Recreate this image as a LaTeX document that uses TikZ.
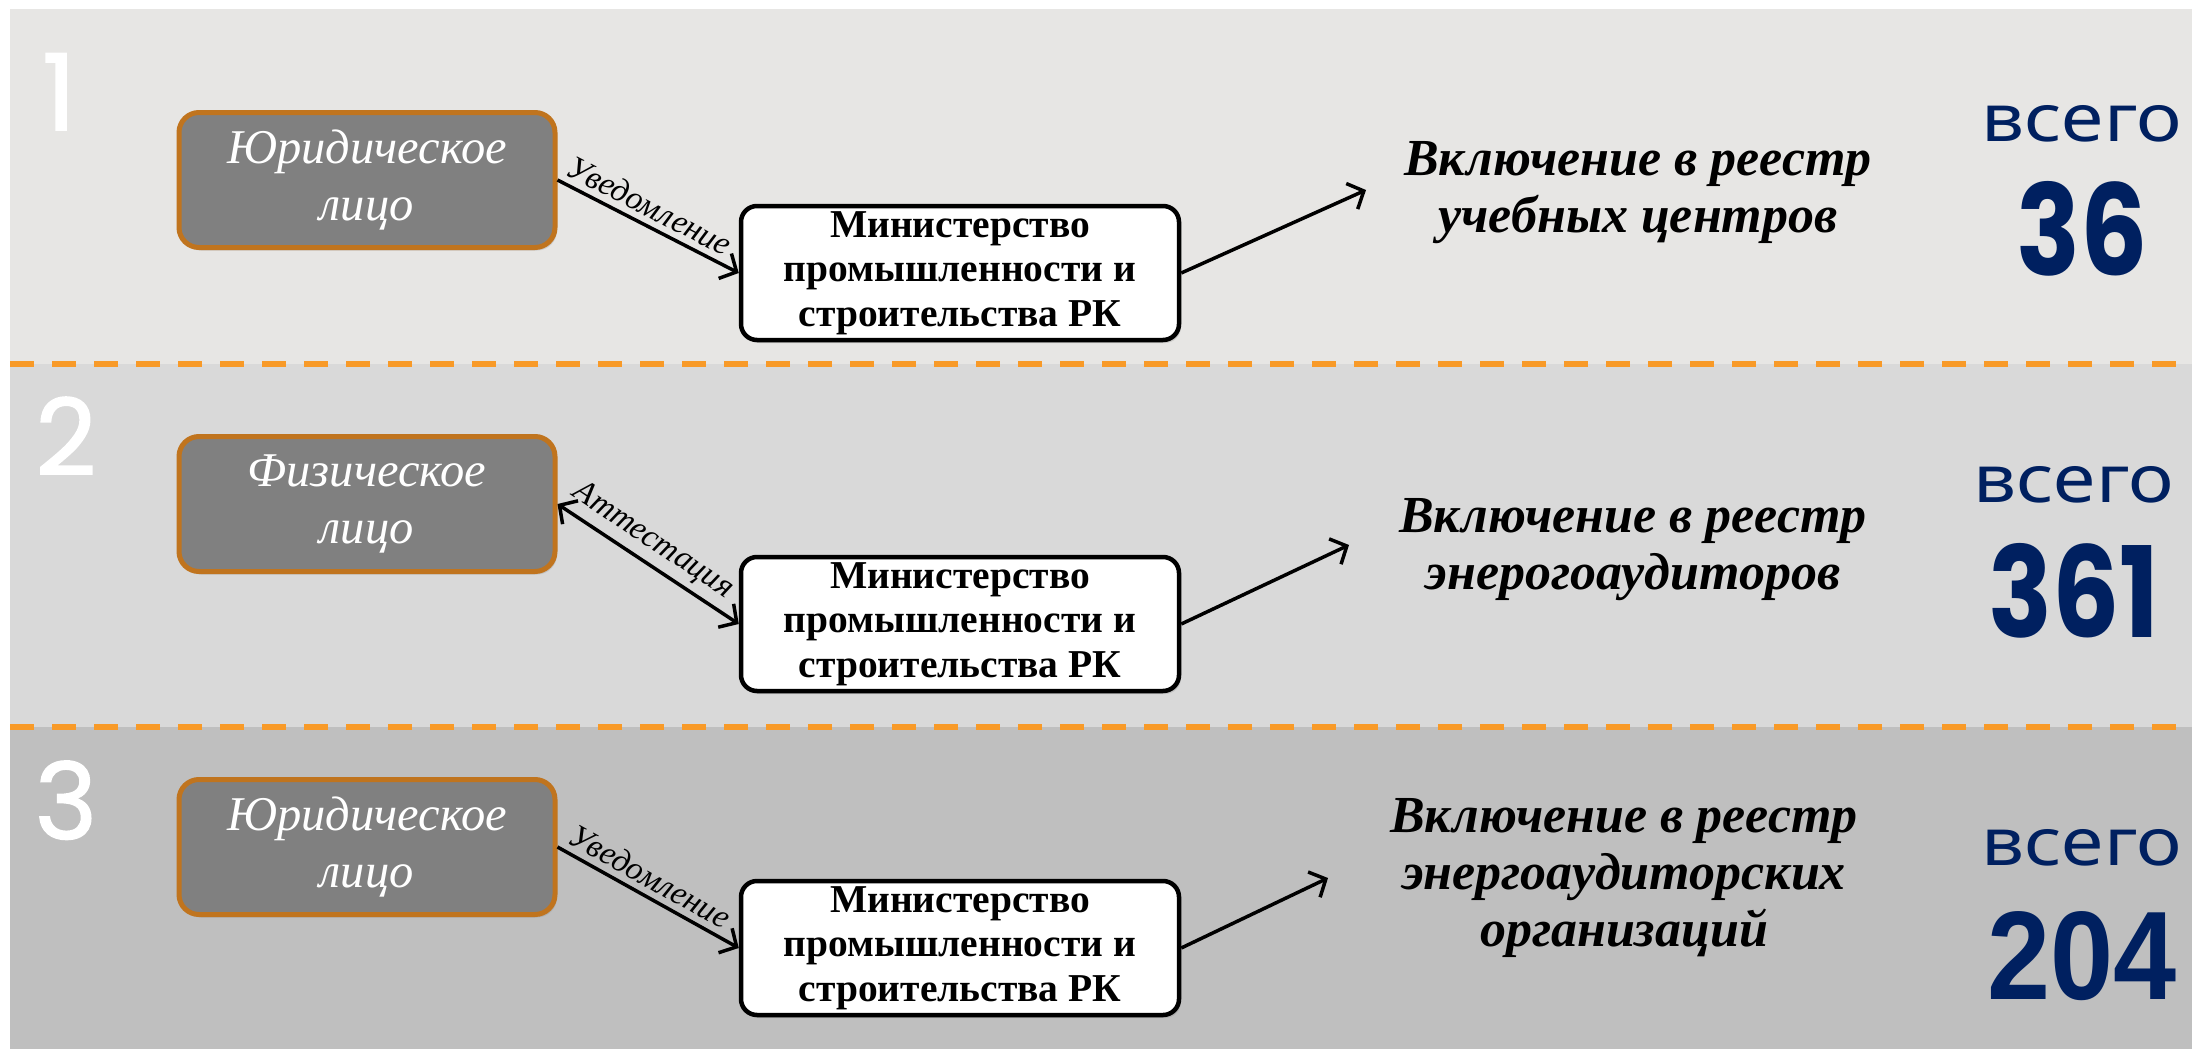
\documentclass[tikz,border=0pt]{standalone}
\usepackage{fontspec}
\setmainfont{Liberation Serif}
\newfontfamily\vsegofont[FakeStretch=1.16]{Noto Sans}
\newfontfamily\numfontA[FakeStretch=0.84]{Poppins}
\newfontfamily\numfontB[FakeStretch=0.9]{Liberation Sans}
\newfontfamily\idxfont[FakeBold=1.5]{Poppins}
\usetikzlibrary{arrows.meta,shadows}
\definecolor{bandA}{RGB}{231,230,228}
\definecolor{bandB}{RGB}{217,217,217}
\definecolor{bandC}{RGB}{191,191,191}
\definecolor{dashorange}{RGB}{248,154,40}
\definecolor{boxgray}{RGB}{128,128,128}
\definecolor{boxorange}{RGB}{192,116,30}
\definecolor{navy}{RGB}{0,32,96}
\tikzset{
  personbox/.style={rounded corners=20pt, fill=boxgray, draw=boxorange, line width=5pt,
    minimum width=376pt, minimum height=135pt, text=white, inner sep=0pt,
    font=\itshape\fontsize{48.5}{57}\selectfont, align=center,
    drop shadow={opacity=0.25, shadow xshift=2pt, shadow yshift=-3pt}},
  ministrybox/.style={rounded corners=16pt, fill=white, draw=black, line width=4.5pt,
    minimum width=438pt, minimum height=134pt, inner sep=0pt,
    font=\bfseries\fontsize{39.5}{44.5}\selectfont, align=center,
    drop shadow={opacity=0.25, shadow xshift=2pt, shadow yshift=-3pt}},
  resulttext/.style={font=\bfseries\itshape\fontsize{52}{57}\selectfont, align=center, inner sep=0pt},
  vsegotext/.style={text=navy, font=\vsegofont\fontsize{66}{70}\selectfont, anchor=base, inner sep=0pt},
  totalA/.style={text=navy, font=\numfontA\bfseries\fontsize{126}{130}\selectfont, anchor=base, inner sep=0pt},
  totalB/.style={text=navy, font=\numfontB\bfseries\fontsize{126}{130}\selectfont, anchor=base, inner sep=0pt},
  idxtext/.style={text=white, font=\idxfont\fontsize{106}{110}\selectfont, anchor=base, inner sep=0pt},
  conn/.style={line width=3.5pt, draw=black},
  tipend/.style={-{Straight Barb[length=13pt,width=28pt]}},
  tipboth/.style={{Straight Barb[length=13pt,width=28pt]}-{Straight Barb[length=13pt,width=28pt]}},
  edgelabel/.style={font=\itshape\fontsize{33}{35}\selectfont, pos=0.46, above, sloped, inner sep=6pt},
  sepline/.style={draw=dashorange, line width=6pt, dash pattern=on 24pt off 18pt}
}
\begin{document}
\begin{tikzpicture}[x=1pt,y=-1pt]
\fill[white] (0,0) rectangle (2192,1049);
\useasboundingbox (0,0) rectangle (2192,1049);
% bands
\fill[bandA] (10,9) rectangle (2192,364);
\fill[bandB] (10,364) rectangle (2192,727);
\fill[bandC] (10,727) rectangle (2192,1049);
\draw[sepline] (10,364) -- (2192,364);
\draw[sepline] (10,727) -- (2192,727);
% index numbers
\node[idxtext] (i1) at (59,130) {1};
\node[idxtext] (i2) at (66,475) {2};
\node[idxtext] (i3) at (66,839) {3};
% row 1
\node[personbox] (p1) at (367,180) {Юридическое\\лицо};
\node[ministrybox] (m1) at (960,273) {Министерство\\промышленности и\\строительства РК};
\coordinate (t1) at (1366,190);
\node[resulttext] (r1) at (1638,193) {Включение в реестр\\учебных центров};
\draw[conn,tipend] (p1.east) -- node[edgelabel] {Уведомление} (m1.west);
\draw[conn,tipend] (m1.east) -- (t1);
\node[vsegotext] (v1) at (2082,141) {всего};
\node[totalA] (n1) at (2082,275) {36};
% row 2
\node[personbox] (p2) at (367,504) {Физическое\\лицо};
\node[ministrybox] (m2) at (960,624) {Министерство\\промышленности и\\строительства РК};
\coordinate (t2) at (1349,545);
\node[resulttext] (r2) at (1633,550) {Включение в реестр\\энерогоаудиторов};
\draw[conn,tipboth] (p2.east) -- node[edgelabel] {Аттестация} (m2.west);
\draw[conn,tipend] (m2.east) -- (t2);
\node[vsegotext] (v2) at (2074,502) {всего};
\node[totalA] (n2) at (2074,637) {361};
% row 3
\node[personbox] (p3) at (367,847) {Юридическое\\лицо};
\node[ministrybox] (m3) at (960,948) {Министерство\\промышленности и\\строительства РК};
\coordinate (t3) at (1328,878);
\node[resulttext] (r3) at (1624,878) {Включение в реестр\\энергоаудиторских\\организаций};
\draw[conn,tipend] (p3.east) -- node[edgelabel] {Уведомление} (m3.west);
\draw[conn,tipend] (m3.east) -- (t3);
\node[vsegotext] (v3) at (2082,865) {всего};
\node[totalB] (n3) at (2082,999) {204};
\end{tikzpicture}
\end{document}
